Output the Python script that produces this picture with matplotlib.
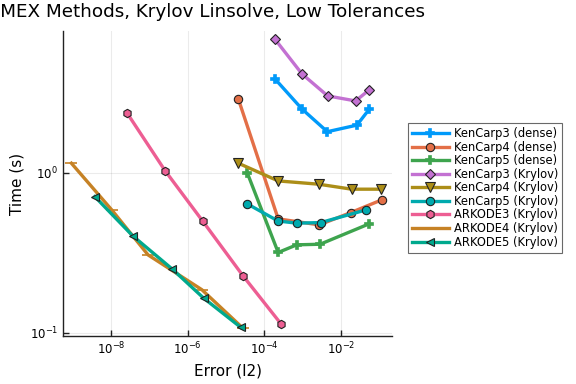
import matplotlib
matplotlib.use("Agg")
import matplotlib.pyplot as plt
from matplotlib.ticker import NullLocator, FixedLocator

names = ["KenCarp3 (dense)", "KenCarp4 (dense)", "KenCarp5 (dense)",
         "KenCarp3 (Krylov)", "KenCarp4 (Krylov)", "KenCarp5 (Krylov)",
         "ARKODE3 (Krylov)", "ARKODE4 (Krylov)", "ARKODE5 (Krylov)"]

kc3d_x = [1.9e-4, 9.6e-4, 4.4e-3, 2.6e-2, 5.5e-2]
kc3d_y = [3.87, 2.51, 1.81, 1.99, 2.51]
kc4d_x = [2.1e-5, 2.3e-4, 2.7e-3, 1.8e-2, 1.15e-1]
kc4d_y = [2.90, 0.516, 0.473, 0.565, 0.678]
kc5d_x = [3.6e-5, 2.3e-4, 7.0e-4, 2.85e-3, 5.4e-2]
kc5d_y = [1.0, 0.318, 0.355, 0.358, 0.48]
kc3k_x = [1.9e-4, 9.6e-4, 4.5e-3, 2.4e-2, 5.4e-2]
kc3k_y = [6.85, 4.16, 3.03, 2.82, 3.30]
kc4k_x = [2.1e-5, 2.3e-4, 2.6e-3, 1.9e-2, 1.1e-1]
kc4k_y = [1.15, 0.891, 0.85, 0.791, 0.791]
kc5k_x = [3.6e-5, 2.3e-4, 7.0e-4, 2.95e-3, 4.5e-2]
kc5k_y = [0.64, 0.50, 0.485, 0.489, 0.587]
ark3_x = [2.6e-8, 2.6e-7, 2.45e-6, 2.75e-5, 2.7e-4]
ark3_y = [2.38, 1.03, 0.501, 0.228, 0.114]
ark4_x = [9.3e-10, 1.05e-8, 9.3e-8, 2.35e-6, 2.75e-5]
ark4_y = [1.15, 0.587, 0.307, 0.186, 0.107]
ark5_x = [3.8e-9, 3.7e-8, 4.0e-7, 2.6e-6, 2.45e-5]
ark5_y = [0.711, 0.404, 0.25, 0.165, 0.108]

xs = [kc3d_x, kc4d_x, kc5d_x, kc3k_x, kc4k_x, kc5k_x, ark3_x, ark4_x, ark5_x]
ys = [kc3d_y, kc4d_y, kc5d_y, kc3k_y, kc4k_y, kc5k_y, ark3_y, ark4_y, ark5_y]
colors = ["#009AFA", "#E36F47", "#3EA44E", "#C371D2", "#AC8E18",
          "#00AAAE", "#ED5E93", "#C68225", "#00A98D"]
markers = ["P", "o", "P", "D", "v", "o", "h", "_", "<"]
msizes = [5.5, 6, 5.5, 5, 6.5, 6, 6, 8, 5.5]

fig = plt.figure(figsize=(5.76, 3.84), dpi=100)
ax = fig.add_axes([63/576, 48/384, 329/576, 305/384])

for x, y, c, m, ms, n in zip(xs, ys, colors, markers, msizes, names):
    ec = c if m in ("P", "_") else "#222222"
    ax.plot(x, y, color=c, lw=2.4, marker=m, ms=ms, mfc=c, mec=ec,
            mew=0.8 if m not in ("P", "_") else 1.2, label=n)

ax.set_xscale("log")
ax.set_yscale("log")
ax.set_xlim(10**-9.25, 10**-0.67)
ax.set_ylim(10**-1.02, 10**0.8875)
ax.xaxis.set_major_locator(FixedLocator([1e-8, 1e-6, 1e-4, 1e-2]))
ax.yaxis.set_major_locator(FixedLocator([1e-1, 1e0]))
ax.xaxis.set_minor_locator(NullLocator())
ax.yaxis.set_minor_locator(NullLocator())
ax.grid(True, which="major", color="#000000", alpha=0.08, lw=0.8)
for s in ["top", "right"]:
    ax.spines[s].set_visible(False)
for s in ["left", "bottom"]:
    ax.spines[s].set_color("#222222")
    ax.spines[s].set_linewidth(1.0)
ax.tick_params(direction="in", length=4, width=1, colors="#222222",
               labelsize=8.5, labelcolor="black")
ax.set_xlabel("Error (l2)", fontsize=11)
ax.set_ylabel("Time (s)", fontsize=11)
ax.xaxis.labelpad = 4

leg = ax.legend(loc="upper left", bbox_to_anchor=((408-63)/329, (336-123)/305),
                borderaxespad=0, fontsize=8.3, frameon=True, fancybox=False,
                edgecolor="#444444", handlelength=3.2, handletextpad=0.4,
                labelspacing=0.05, borderpad=0.35)
leg.get_frame().set_linewidth(0.8)

fig.text(210/576, 1 - 12/384, "IMEX Methods, Krylov Linsolve, Low Tolerances",
         ha="center", va="center", fontsize=13.2)

fig.savefig("out.png", dpi=100)
